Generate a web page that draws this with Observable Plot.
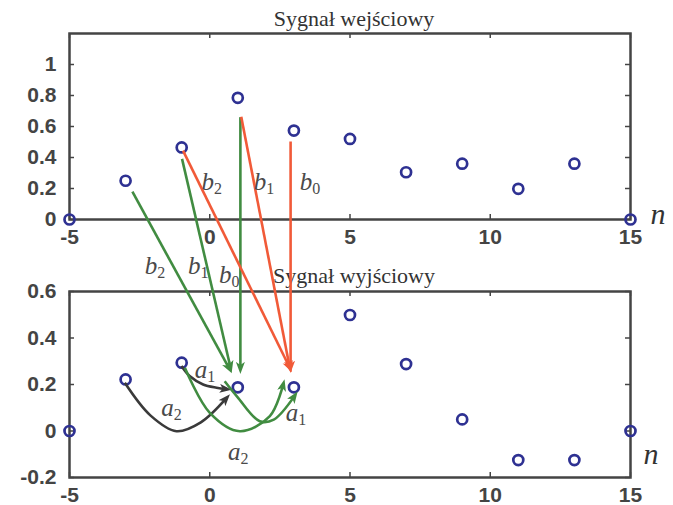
<!DOCTYPE html>
<html><head><meta charset="utf-8">
<script src="https://cdn.jsdelivr.net/npm/d3@7"></script>
<script src="https://cdn.jsdelivr.net/npm/@observablehq/plot@0.6"></script>
<style>
body{margin:0;background:#fff}
#wrap{position:relative;width:673px;height:505px;overflow:hidden}
#wrap svg{display:block}
</style>
</head><body><div id="wrap"></div>
<script>
// ---- data ----
const n = [-5, -3, -1, 1, 3, 5, 7, 9, 11, 13, 15];
const inputValues = [0, 0.25, 0.465, 0.785, 0.574, 0.52, 0.305, 0.36, 0.198, 0.36, 0];
const outputValues = [0, 0.222, 0.294, 0.188, 0.188, 0.499, 0.288, 0.05, -0.125, -0.125, 0];
const xTicks = [-5, 0, 5, 10, 15];
const yTopTicks = [0, 0.2, 0.4, 0.6, 0.8, 1];
const yBottomTicks = [-0.2, 0, 0.2, 0.4, 0.6];
const titleTop = "Sygnał wejściowy";
const titleBottom = "Sygnał wyjściowy";

// straight b-arrows: from (n, input value) in top panel to (n, output value) in bottom panel
const bFromN = [-2.74, -0.97, 1.11, -0.935, 1.14, 2.9];
const bFromV = [0.176, 0.388, 0.657, 0.441, 0.66, 0.5];
const bToN = [0.72, 0.76, 1.11, 2.87, 2.87, 2.9];
const bToV = [0.265, 0.27, 0.265, 0.27, 0.27, 0.27];
const bGroup = ["g", "g", "g", "r", "r", "r"];

// curved a-arrows (bottom panel coordinates)
const curveA2darkN = [-3.01, -2.1, -1.17, -0.3, 0.62];
const curveA2darkV = [0.205, 0.065, -0.003, 0.035, 0.14];
const curveA1darkN = [-0.99, -0.7, -0.22, 0.26, 0.62];
const curveA1darkV = [0.277, 0.234, 0.198, 0.184, 0.178];
const curveA2greenN = [-0.87, 0.02, 1.09, 2.16, 2.64];
const curveA2greenV = [0.27, 0.076, -0.003, 0.062, 0.2];
const curveA1greenN = [0.55, 1.0, 1.8, 2.3, 3.05];
const curveA1greenV = [0.212, 0.145, 0.04, 0.047, 0.15];

// a/b labels
const labBase = ["b", "b", "b", "b", "b", "b", "a", "a", "a", "a"];
const labSub = ["2", "1", "0", "2", "1", "0", "1", "2", "1", "2"];
const labN = [-0.28, 1.59, 3.23, -2.30, -0.76, 0.35, -0.52, -1.71, 2.73, 0.67];
const labV = [0.187, 0.187, 0.187, 0.671, 0.671, 0.635, 0.227, 0.062, 0.04, -0.125];
const labPanel = ["top", "top", "top", "bot", "bot", "bot", "bot", "bot", "bot", "bot"];

// ---- styles ----
const SANS = "'Liberation Sans', Arial, Helvetica, sans-serif";
const SERIF = "'Liberation Serif', 'Times New Roman', serif";
const AX = "#444";
const DOT = "#2e3192";
const GREEN = "#418c41";
const RED = "#f15a38";
const DARK = "#3a3a3a";
const fmt = d => String(d);
const W = 673, ML = 69, MR = 43;
const TICK = 5;

function panel(values, yDomain, yTicks, title, opts) {
  const pw = W - ML - MR;
  const ph = opts.height - opts.mt - opts.mb;
  return Plot.plot({
    width: W, height: opts.height,
    marginLeft: ML, marginRight: MR, marginTop: opts.mt, marginBottom: opts.mb,
    x: {domain: [-5, 15]},
    y: {domain: yDomain},
    style: {fontFamily: SANS, fontSize: "21px", fontWeight: "bold", color: AX, background: "white", overflow: "visible"},
    marks: [
      Plot.axisX(xTicks, {anchor: "bottom", tickSize: 0, tickPadding: 10, tickFormat: fmt, label: null}),
      Plot.axisY(yTicks, {anchor: "left", tickSize: 0, tickPadding: 13, tickFormat: fmt, label: null}),
      // inward tick marks on all four sides
      Plot.tickX(xTicks, {x: d => d, insetTop: ph - TICK, stroke: AX, strokeWidth: 1.5}),
      Plot.tickX(xTicks, {x: d => d, insetBottom: ph - TICK, stroke: AX, strokeWidth: 1.5}),
      Plot.tickY(yTicks, {y: d => d, insetRight: pw - TICK, stroke: AX, strokeWidth: 1.5}),
      Plot.tickY(yTicks, {y: d => d, insetLeft: pw - TICK, stroke: AX, strokeWidth: 1.5}),
      Plot.frame({stroke: AX, strokeWidth: 2.5}),
      Plot.dot(n, {x: n, y: values, r: 5, stroke: DOT, strokeWidth: 2.7, fill: "none"}),
      Plot.text([title], {text: d => d, frameAnchor: "top", lineAnchor: "bottom", dx: 4, dy: opts.titleDy,
        fontFamily: SERIF, fontSize: 22, fontWeight: "normal", fill: "#333"}),
      Plot.text(["n"], {text: d => d, frameAnchor: "bottom-right", lineAnchor: "bottom", textAnchor: "start",
        dx: opts.nDx, dy: opts.nDy, fontFamily: SERIF, fontStyle: "italic", fontSize: 30, fontWeight: "normal", fill: "#333"})
    ]
  });
}

const topPlot = panel(inputValues, [0, 1.2], yTopTicks, titleTop, {height: 250, mt: 33, mb: 31, titleDy: -8, nDx: 20, nDy: 4});
const botPlot = panel(outputValues, [-0.2, 0.6], yBottomTicks, titleBottom, {height: 255, mt: 41, mb: 28, titleDy: -9, nDx: 13, nDy: -14});

const wrap = document.getElementById("wrap");
wrap.appendChild(topPlot);
wrap.appendChild(botPlot);

// ---- overlay of arrows crossing the panels, positioned with the plots' own scales ----
const OFF = 250;
const sx = topPlot.scale("x"), syT = topPlot.scale("y"), syB = botPlot.scale("y");
const X = v => sx.apply(v);
const YT = v => syT.apply(v);
const YB = v => OFF + syB.apply(v);

const svg = d3.select(wrap).append("svg")
  .attr("width", 673).attr("height", 505)
  .style("position", "absolute").style("left", "0px").style("top", "0px")
  .style("overflow", "visible").style("pointer-events", "none");

const defs = svg.append("defs");
const colors = {g: GREEN, r: RED, d: DARK};
for (const [k, c] of Object.entries(colors)) {
  defs.append("marker").attr("id", "ah-" + k)
    .attr("markerUnits", "userSpaceOnUse").attr("markerWidth", 14).attr("markerHeight", 10)
    .attr("viewBox", "0 0 14 10").attr("refX", 7).attr("refY", 4.5).attr("orient", "auto")
    .append("path").attr("d", "M0,0 L12,4.5 L0,9 L3,4.5 Z").attr("fill", c);
}

bFromN.forEach((_, i) => {
  svg.append("line")
    .attr("x1", X(bFromN[i])).attr("y1", YT(bFromV[i]))
    .attr("x2", X(bToN[i])).attr("y2", YB(bToV[i]))
    .attr("stroke", colors[bGroup[i]]).attr("stroke-width", 2.6)
    .attr("marker-end", `url(#ah-${bGroup[i]})`);
});

const curves = [
  [curveA2darkN, curveA2darkV, "d"],
  [curveA1darkN, curveA1darkV, "d"],
  [curveA2greenN, curveA2greenV, "g"],
  [curveA1greenN, curveA1greenV, "g"]
];
const line = d3.line().curve(d3.curveCatmullRom.alpha(0.5));
for (const [cn, cv, k] of curves) {
  const pts = cn.map((v, i) => [X(v), YB(cv[i])]);
  svg.append("path").attr("d", line(pts)).attr("fill", "none")
    .attr("stroke", colors[k]).attr("stroke-width", 2.6)
    .attr("marker-end", `url(#ah-${k})`);
}

labBase.forEach((b, i) => {
  const y = labPanel[i] === "top" ? YT(labV[i]) : YB(labV[i]);
  const t = svg.append("text").attr("x", X(labN[i])).attr("y", y)
    .attr("font-family", SERIF).attr("font-size", 25).attr("fill", "#4a4a4a");
  t.append("tspan").attr("font-style", "italic").text(b);
  t.append("tspan").attr("font-size", 16).attr("dy", 4).text(labSub[i]);
});
</script></body></html>
